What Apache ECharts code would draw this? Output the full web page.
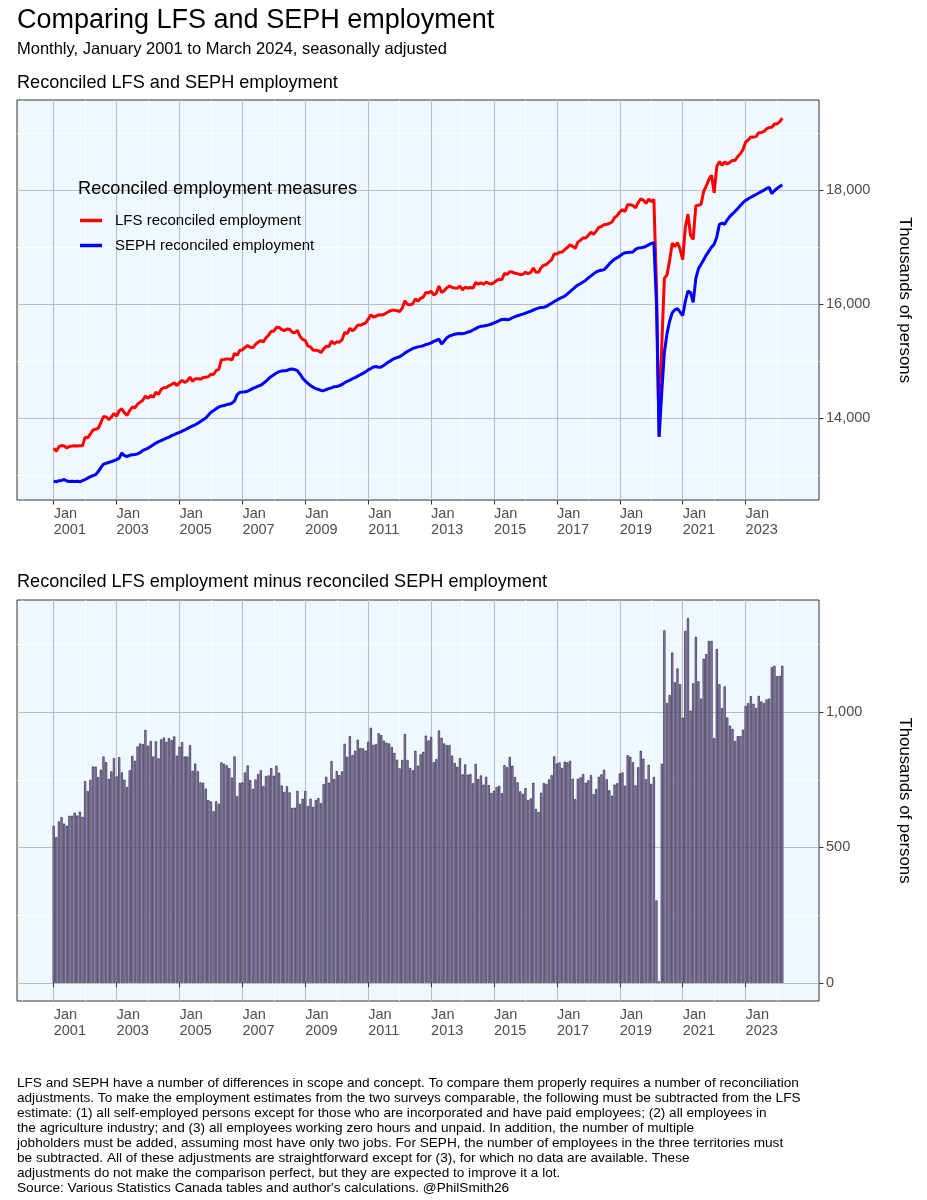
<!DOCTYPE html>
<html>
<head>
<meta charset="utf-8">
<script src="https://cdn.jsdelivr.net/npm/echarts/dist/echarts.min.js"></script>
<style>
html, body { margin: 0; padding: 0; background: #fff; }
#main { width: 927px; height: 1200px; }
</style>
</head>
<body>
<div id="main"></div>
<script>
// monthly, Jan 2001 .. Mar 2024, thousands of persons
var seph = [
12890,12880,12900,12905,12920,12895,12885,12890,12885,12890,12880,12900,
12920,12945,12970,12990,13005,13060,13130,13190,13205,13220,13235,13250,
13270,13295,13385,13340,13325,13345,13355,13360,13370,13395,13430,13450,
13470,13500,13530,13560,13585,13605,13625,13645,13665,13690,13710,13730,
13750,13770,13790,13815,13840,13860,13880,13910,13940,13970,14000,14050,
14100,14130,14165,14195,14210,14220,14235,14245,14260,14300,14410,14450,
14455,14462,14470,14495,14520,14540,14560,14575,14610,14645,14690,14730,
14760,14790,14815,14825,14830,14835,14855,14860,14850,14830,14770,14700,
14650,14610,14570,14540,14515,14500,14485,14480,14500,14515,14530,14550,
14555,14565,14590,14620,14645,14665,14690,14710,14735,14760,14785,14810,
14845,14870,14895,14905,14890,14895,14925,14960,14990,15020,15045,15060,
15075,15105,15140,15170,15195,15220,15235,15250,15258,15270,15290,15300,
15320,15345,15365,15385,15300,15350,15410,15440,15455,15470,15480,15485,
15480,15490,15510,15520,15545,15570,15595,15610,15615,15625,15635,15650,
15670,15690,15710,15730,15735,15725,15735,15760,15780,15795,15810,15825,
15840,15860,15875,15895,15915,15930,15940,15945,15960,15990,16015,16045,
16070,16095,16120,16140,16180,16220,16260,16300,16335,16360,16390,16420,
16460,16495,16530,16565,16585,16595,16605,16650,16705,16750,16790,16815,
16845,16880,16900,16905,16910,16915,16960,16985,16990,16998,17015,17040,
17065,17080,16000,13670,14450,15150,15480,15700,15850,15900,15920,15860,
15800,16050,16230,16200,16030,16450,16620,16700,16780,16860,16930,17000,
17050,17180,17400,17420,17400,17480,17540,17585,17630,17680,17730,17780,
17820,17850,17875,17900,17925,17950,17975,18000,18030,18050,17940,17990,
18030,18065,18093
];
var lfs = [
13470,13418,13496,13517,13508,13475,13502,13507,13513,13508,13512,13513,
13665,13653,13720,13789,13803,13820,13917,14026,14020,13973,14016,14080,
14032,14128,14162,14090,14048,14130,14193,14180,14243,14279,14312,14384,
14346,14393,14366,14452,14414,14504,14531,14535,14569,14587,14620,14569,
14622,14659,14626,14651,14718,14643,14690,14691,14680,14709,14717,14725,
14770,14763,14835,14856,15024,15029,15038,15038,15018,15136,15099,15188,
15195,15239,15273,15244,15236,15291,15331,15360,15337,15409,15456,15523,
15525,15592,15591,15554,15535,15561,15558,15506,15497,15539,15431,15380,
15358,15263,15250,15190,15190,15182,15148,15214,15261,15254,15349,15303,
15337,15332,15371,15503,15480,15576,15531,15567,15633,15627,15651,15668,
15735,15812,15774,15787,15812,15810,15819,15847,15874,15891,15894,15884,
15867,15928,16059,15993,15989,16005,16092,16052,16102,16123,16203,16195,
16228,16160,16191,16317,16205,16234,16288,16318,16294,16282,16278,16315,
16250,16297,16279,16291,16282,16379,16348,16376,16347,16386,16365,16351,
16379,16413,16438,16430,16539,16521,16569,16562,16540,16535,16517,16523,
16559,16535,16556,16634,16557,16561,16642,16683,16694,16741,16782,16881,
16880,16909,16914,16957,16994,17040,17014,16978,17088,17119,17161,17159,
17208,17262,17227,17281,17346,17365,17392,17402,17416,17441,17522,17552,
17618,17657,17628,17746,17745,17730,17689,17781,17847,17826,17767,17845,
17800,17840,16304,13675,15259,16452,16513,16763,17070,17010,17081,16963,
16779,17350,17577,17205,17136,17728,17734,17750,17977,18074,18193,18263,
17954,18413,18503,18435,18495,18460,18490,18523,18523,18591,18641,18715,
18843,18883,18934,18931,18940,19010,19014,19033,19077,19100,19106,19161,
19163,19199,19264
];
// LFS minus SEPH
var gap = [
580,538,596,612,588,580,617,617,628,618,632,613,
745,708,750,799,798,760,787,836,815,753,781,830,
762,833,777,750,723,785,838,820,873,884,882,934,
876,893,836,892,829,899,906,890,904,897,910,839,
872,889,836,836,878,783,810,781,740,739,717,675,
670,633,670,661,814,809,803,793,758,836,689,738,
740,777,803,749,716,751,771,785,727,764,766,793,
765,802,776,729,705,726,703,646,647,709,661,680,
708,653,680,650,675,682,663,734,761,739,819,753,
782,767,781,883,835,911,841,857,898,867,866,858,
890,942,879,882,922,915,894,887,884,871,849,824,
792,823,919,823,794,785,857,802,844,853,913,895,
908,815,826,932,905,884,878,878,839,812,798,830,
770,807,769,771,737,809,753,766,732,761,730,701,
709,723,728,700,804,796,834,802,760,740,707,698,
719,675,681,739,642,631,702,738,734,751,767,836,
810,814,794,817,814,820,754,678,753,759,771,739,
748,767,697,716,761,770,787,752,711,691,732,737,
773,777,728,841,835,815,729,796,857,828,752,805,
735,760,304,5,809,1302,1033,1063,1220,1110,1161,1103,
979,1300,1347,1005,1106,1278,1114,1050,1197,1214,1263,1263,
904,1233,1103,1015,1095,980,950,938,893,911,911,935,
1023,1033,1059,1031,1015,1060,1039,1033,1047,1050,1166,1171,
1133,1134,1171
];
var majorTicks = ['2001-01','2003-01','2005-01','2007-01','2009-01','2011-01',
                  '2013-01','2015-01','2017-01','2019-01','2021-01','2023-01'];
var minorTicks = ['2000-01','2002-01','2004-01','2006-01','2008-01','2010-01','2012-01',
                  '2014-01','2016-01','2018-01','2020-01','2022-01','2024-01'];

var FONT = 'Liberation Sans, Arial, sans-serif';
var padMonths = 14; // ggplot's 5% expansion of the date scale, each side

// month categories incl. padding before Jan 2001 and after Mar 2024
var months = [];
for (var m = -padMonths; m < seph.length + padMonths; m++) {
    var yr = 2001 + Math.floor(m / 12);
    var mo = ((m % 12) + 12) % 12 + 1;
    months.push(yr + '-' + (mo < 10 ? '0' : '') + mo);
}
function padded(arr) {
    var out = [];
    for (var i = 0; i < padMonths; i++) out.push(null);
    out = out.concat(arr);
    for (var j = 0; j < padMonths; j++) out.push(null);
    return out;
}
function isMajor(i, v) { return majorTicks.indexOf(v) >= 0; }
function isMinor(i, v) { return minorTicks.indexOf(v) >= 0; }
function thousands(v) { return Math.round(v).toLocaleString('en-US'); }

function xMajor(g) {
    return {
        type: 'category', gridIndex: g, data: months, boundaryGap: false, z: 1,
        axisLine: { show: false },
        axisTick: { show: true, interval: isMajor, length: 4.5, lineStyle: { color: '#333', width: 1 } },
        axisLabel: {
            interval: isMajor, align: 'left', margin: 6,
            formatter: function (v) { return 'Jan\n' + v.slice(0, 4); },
            color: '#4d4d4d', fontSize: 14.5, lineHeight: 16, fontFamily: FONT
        },
        splitLine: { show: true, interval: isMajor, lineStyle: { color: '#bebebe', width: 1.1 } }
    };
}
function xMinor(g) {
    return {
        type: 'category', gridIndex: g, data: months, boundaryGap: false, z: 0,
        axisLine: { show: false }, axisTick: { show: false }, axisLabel: { show: false },
        splitLine: { show: true, interval: isMinor, lineStyle: { color: '#ffffff', width: 0.7 } }
    };
}
function yMajor(g, lo, hi, nm) {
    return {
        type: 'value', gridIndex: g, position: 'right', min: lo, max: hi, splitNumber: 3, z: 1,
        axisLine: { show: false },
        axisTick: { show: true, length: 4.5, lineStyle: { color: '#333', width: 1 } },
        axisLabel: {
            formatter: thousands, margin: 7, showMinLabel: false, showMaxLabel: false,
            color: '#4d4d4d', fontSize: 14.5, fontFamily: FONT
        },
        splitLine: { show: true, showMinLine: false, showMaxLine: false, lineStyle: { color: '#bebebe', width: 1.1 } },
        name: nm, nameLocation: 'middle', nameRotate: -90, nameGap: 77,
        nameTextStyle: { color: '#000', fontSize: 16.8, fontFamily: FONT }
    };
}
function yMinor(g, lo, hi, n) {
    return {
        type: 'value', gridIndex: g, position: 'right', min: lo, max: hi, splitNumber: n, z: 0,
        axisLine: { show: false }, axisTick: { show: false }, axisLabel: { show: false },
        splitLine: { show: true, showMinLine: false, showMaxLine: false, lineStyle: { color: '#ffffff', width: 0.7 } }
    };
}

var footnote = 'LFS and SEPH have a number of differences in scope and concept. To compare them properly requires a number of reconciliation\n' +
    'adjustments. To make the employment estimates from the two surveys comparable, the following must be subtracted from the LFS\n' +
    'estimate: (1) all self-employed persons except for those who are incorporated and have paid employees; (2) all employees in\n' +
    'the agriculture industry; and (3) all employees working zero hours and unpaid. In addition, the number of multiple\n' +
    'jobholders must be added, assuming most have only two jobs. For SEPH, the number of employees in the three territories must\n' +
    'be subtracted. All of these adjustments are straightforward except for (3), for which no data are available. These\n' +
    'adjustments do not make the comparison perfect, but they are expected to improve it a lot.\n' +
    'Source: Various Statistics Canada tables and author\'s calculations. @PhilSmith26';

function txt(s, x, y, size, extra) {
    var st = { fontSize: size, fontWeight: 'normal', color: '#000', fontFamily: FONT };
    if (extra) for (var k in extra) st[k] = extra[k];
    return { text: s, left: x, top: y, padding: 0, textStyle: st };
}

var myChart = echarts.init(document.getElementById('main'), null, { renderer: 'canvas' });
var option = {
    animation: false,
    backgroundColor: '#ffffff',
    title: [
        txt('Comparing LFS and SEPH employment', 17, 7, 27),
        txt('Monthly, January 2001 to March 2024, seasonally adjusted', 17, 41, 16.5),
        txt('Reconciled LFS and SEPH employment', 17, 74, 18.1),
        txt('Reconciled LFS employment minus reconciled SEPH employment', 17, 573, 18.1),
        txt('Reconciled employment measures', 78, 180, 18.2),
        txt(footnote, 17, 1076, 13.6, { lineHeight: 14.9 })
    ],
    legend: {
        data: ['LFS reconciled employment', 'SEPH reconciled employment'],
        orient: 'vertical', left: 80, top: 213, padding: 0, icon: 'rect',
        itemWidth: 22, itemHeight: 3.5, itemGap: 10,
        textStyle: { fontSize: 15, color: '#000', fontFamily: FONT, padding: [0, 0, 0, 8] }
    },
    grid: [
        { left: 17, top: 100, width: 802, height: 400, show: true, backgroundColor: '#f0f8ff', borderColor: '#333', borderWidth: 1 },
        { left: 17, top: 600, width: 802, height: 401, show: true, backgroundColor: '#f0f8ff', borderColor: '#333', borderWidth: 1 }
    ],
    xAxis: [xMajor(0), xMinor(0), xMajor(1), xMinor(1)],
    yAxis: [
        yMajor(0, 12560.8, 19583.2, 'Thousands of persons'),
        yMinor(0, 12560.8, 19583.2, 7),
        yMajor(1, -67.35, 1414.35, 'Thousands of persons'),
        yMinor(1, -134.7, 2828.7, 6)   // doubled scale so that ticks land on every 250
    ],
    series: [
        {
            name: 'LFS reconciled employment', type: 'line', xAxisIndex: 0, yAxisIndex: 0,
            data: padded(lfs), symbol: 'none', z: 3,
            lineStyle: { color: '#ff0000', width: 3 }, itemStyle: { color: '#ff0000' }
        },
        {
            name: 'SEPH reconciled employment', type: 'line', xAxisIndex: 0, yAxisIndex: 0,
            data: padded(seph), symbol: 'none', z: 3,
            lineStyle: { color: '#0000ff', width: 3 }, itemStyle: { color: '#0000ff' }
        },
        {
            name: 'gap', type: 'bar', xAxisIndex: 2, yAxisIndex: 2,
            data: padded(gap), barWidth: '80%', z: 2,
            itemStyle: { color: '#a187d6', borderColor: '#000', borderWidth: 0.55 }
        }
    ]
};
myChart.setOption(option);
</script>
</body>
</html>
